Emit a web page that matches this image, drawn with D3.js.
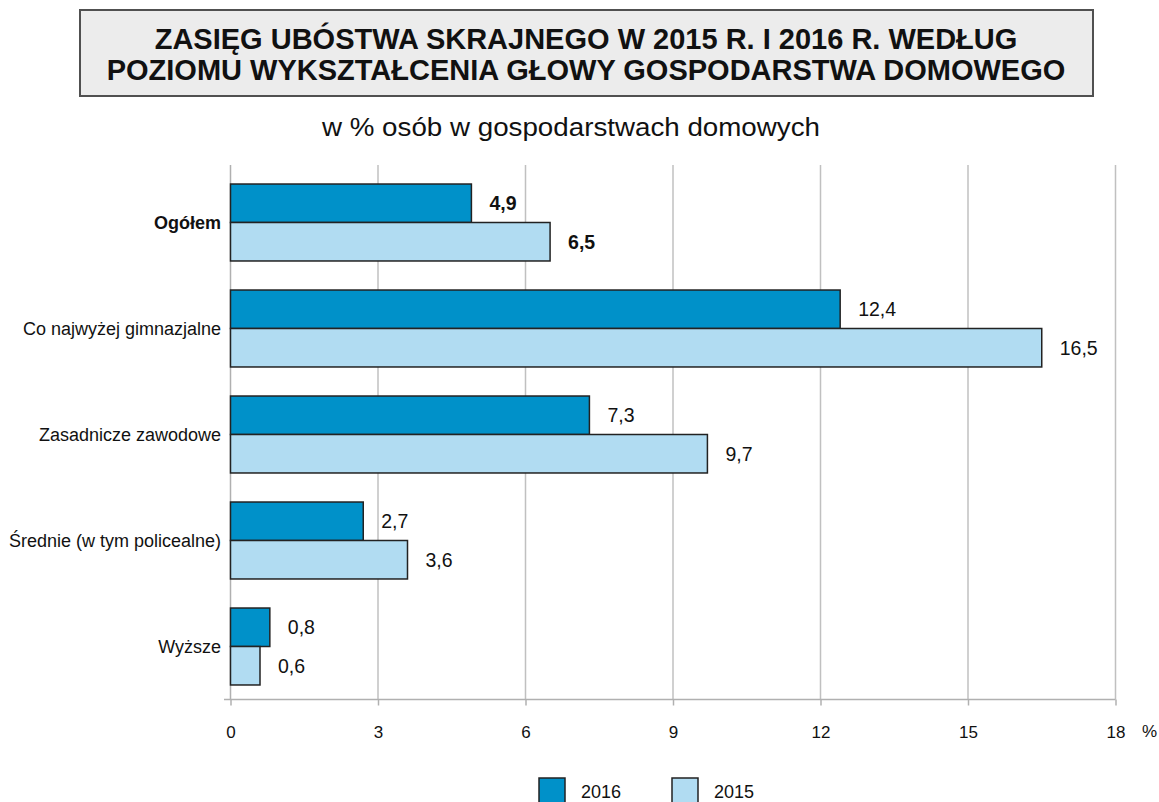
<!DOCTYPE html>
<html>
<head>
<meta charset="utf-8">
<script src="https://cdn.jsdelivr.net/npm/d3@7"></script>
<style>
  body { margin: 0; background: #fff; }
  svg { display: block; font-family: "Liberation Sans", Arial, sans-serif; }
</style>
</head>
<body>
<script>
(function (d3) {
    'use strict';

    // dane
    var categories = ['Ogółem', 'Co najwyżej gimnazjalne', 'Zasadnicze zawodowe', 'Średnie (w tym policealne)', 'Wyższe'];
    var series2016 = [4.9, 12.4, 7.3, 2.7, 0.8];
    var series2015 = [6.5, 16.5, 9.7, 3.6, 0.6];
    var years = ['2016', '2015'];
    var ticks = [0, 3, 6, 9, 12, 15, 18];
    var colors = { '2016': '#0091c9', '2015': '#b1dcf2' };

    var width = 1159, height = 802;
    var svg = d3.select('body').append('svg')
        .attr('width', width)
        .attr('height', height);

    // tytul w ramce
    svg.append('rect')
        .attr('x', 80).attr('y', 10)
        .attr('width', 1013).attr('height', 86)
        .attr('fill', '#ececec')
        .attr('stroke', '#505050')
        .attr('stroke-width', 2);

    var title = svg.append('text')
        .attr('text-anchor', 'middle')
        .style('font-weight', 'bold')
        .style('font-size', '29px')
        .attr('fill', '#111');
    title.append('tspan').attr('x', 586).attr('y', 49).text('ZASIĘG UBÓSTWA SKRAJNEGO W 2015 R. I 2016 R. WEDŁUG');
    title.append('tspan').attr('x', 586).attr('y', 80).text('POZIOMU WYKSZTAŁCENIA GŁOWY GOSPODARSTWA DOMOWEGO');

    svg.append('text')
        .attr('x', 322).attr('y', 136)
        .attr('textLength', 498)
        .attr('lengthAdjust', 'spacingAndGlyphs')
        .style('font-size', '26px')
        .attr('fill', '#111')
        .text('w % osób w gospodarstwach domowych');

    var margin = { top: 169.5, left: 230.5, right: 1115.5, bottom: 699.5 };

    var xScale = d3.scaleLinear()
        .domain([0, 18])
        .range([margin.left, margin.right]);

    var yScale = d3.scaleBand()
        .domain(categories)
        .range([margin.top, margin.bottom])
        .paddingInner(0.274)
        .paddingOuter(0.137);

    var ySub = d3.scaleBand()
        .domain(years)
        .range([0, yScale.bandwidth()]);

    // linie siatki
    svg.append('g')
        .selectAll('line')
        .data(ticks.slice(1))
        .enter().append('line')
        .attr('x1', function (d) { return xScale(d); })
        .attr('x2', function (d) { return xScale(d); })
        .attr('y1', 165)
        .attr('y2', margin.bottom)
        .attr('stroke', '#c0c0c0')
        .attr('stroke-width', 1.5);

    // os X
    var xAxis = svg.append('g')
        .attr('transform', 'translate(0,' + margin.bottom + ')')
        .call(d3.axisBottom(xScale).tickValues(ticks).tickSize(6).tickPadding(20));
    xAxis.select('.domain').remove();
    xAxis.selectAll('.tick line').attr('stroke', '#b0b0b0').attr('stroke-width', 1.5);
    xAxis.selectAll('.tick text')
        .style('font-family', '"Liberation Sans", Arial, sans-serif')
        .style('font-size', '17px')
        .attr('fill', '#111');
    xAxis.append('line')
        .attr('x1', 224).attr('x2', margin.right)
        .attr('stroke', '#b0b0b0').attr('stroke-width', 1.5);
    svg.append('text')
        .attr('x', 1142).attr('y', margin.bottom + 37)
        .style('font-size', '17px').attr('fill', '#111')
        .text('%');

    // os Y - etykiety kategorii
    svg.append('g')
        .selectAll('text')
        .data(categories)
        .enter().append('text')
        .attr('x', 221)
        .attr('y', function (d) { return yScale(d) + yScale.bandwidth() / 2; })
        .attr('dy', '0.35em')
        .attr('text-anchor', 'end')
        .style('font-size', '18px')
        .style('font-weight', function (d, i) { return i === 0 ? 'bold' : 'normal'; })
        .attr('fill', '#111')
        .text(function (d) { return d; });

    svg.append('line')
        .attr('x1', margin.left).attr('x2', margin.left)
        .attr('y1', 165).attr('y2', margin.bottom)
        .attr('stroke', '#b0b0b0').attr('stroke-width', 1.5);

    var rows = [];
    categories.forEach(function (c, i) {
        rows.push({ cat: c, year: '2016', value: series2016[i], idx: i });
        rows.push({ cat: c, year: '2015', value: series2015[i], idx: i });
    });

    var fmt = function (v) { return d3.format('.1f')(v).replace('.', ','); };

    svg.append('g')
        .selectAll('rect')
        .data(rows)
        .enter().append('rect')
        .attr('x', xScale(0))
        .attr('y', function (d) { return yScale(d.cat) + ySub(d.year); })
        .attr('width', function (d) { return xScale(d.value) - xScale(0); })
        .attr('height', ySub.bandwidth())
        .attr('fill', function (d) { return colors[d.year]; })
        .attr('stroke', '#222')
        .attr('stroke-width', 1.5);

    svg.append('g')
        .selectAll('text')
        .data(rows)
        .enter().append('text')
        .attr('x', function (d) { return xScale(d.value) + 18; })
        .attr('y', function (d) { return yScale(d.cat) + ySub(d.year) + ySub.bandwidth() / 2 + 7; })
        .style('font-size', '19.5px')
        .style('font-weight', function (d) { return d.idx === 0 ? 'bold' : 'normal'; })
        .attr('fill', '#111')
        .text(function (d) { return fmt(d.value); });

    // legenda
    var legend = svg.append('g');
    var lx = [539, 672];
    years.forEach(function (y, i) {
        legend.append('rect')
            .attr('x', lx[i]).attr('y', 778)
            .attr('width', 26).attr('height', 30)
            .attr('fill', colors[y])
            .attr('stroke', '#222').attr('stroke-width', 1.5);
        legend.append('text')
            .attr('x', lx[i] + 42).attr('y', 798)
            .style('font-size', '18px')
            .attr('fill', '#111')
            .text(y);
    });

})(d3);
</script>
</body>
</html>
